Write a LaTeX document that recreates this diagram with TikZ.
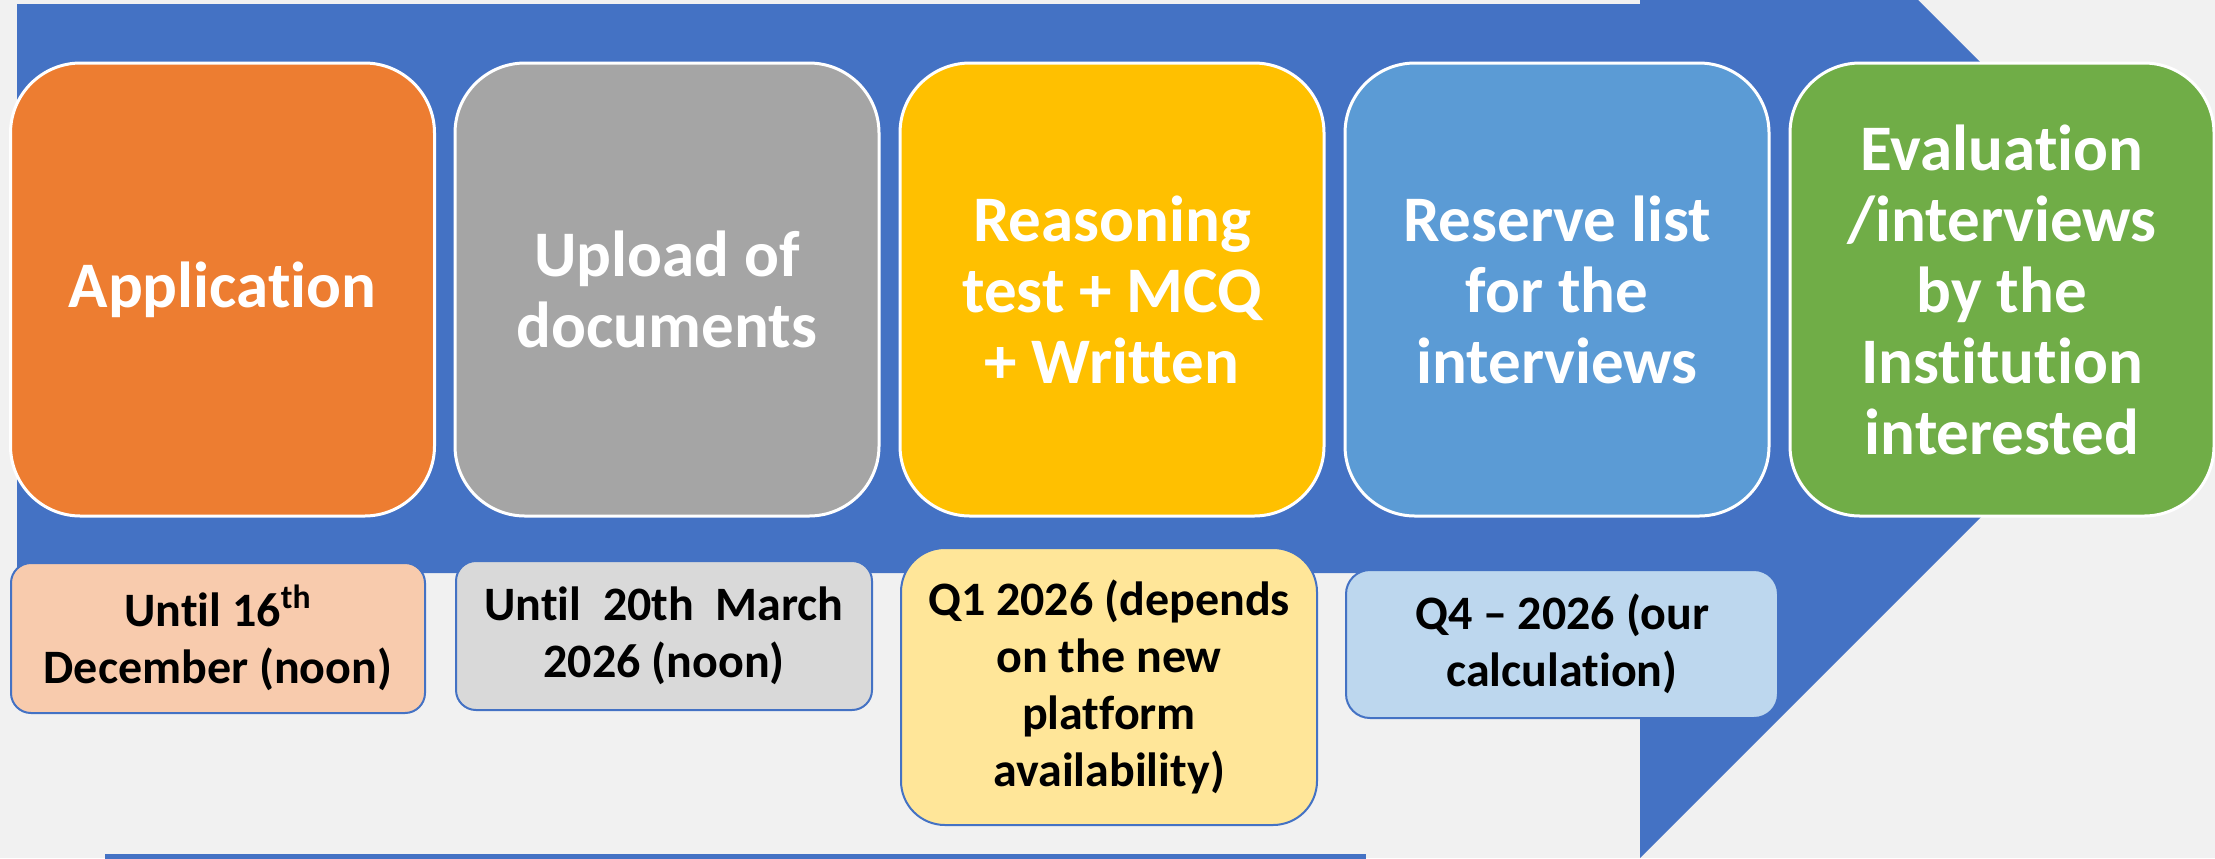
\documentclass[tikz,border=0pt]{standalone}
\usepackage{fontspec}
\setmainfont{Carlito}[Ligatures={TeX,NoCommon}]
\definecolor{bg}{RGB}{241,241,241}
\definecolor{arrowblue}{RGB}{68,114,196}
\definecolor{c1}{RGB}{237,125,49}
\definecolor{c2}{RGB}{165,165,165}
\definecolor{c3}{RGB}{255,192,0}
\definecolor{c4}{RGB}{91,155,213}
\definecolor{c5}{RGB}{112,173,71}
\definecolor{d1}{RGB}{248,203,173}
\definecolor{d2}{RGB}{217,217,217}
\definecolor{d3}{RGB}{255,230,153}
\definecolor{d4}{RGB}{189,215,238}
\begin{document}
\begin{tikzpicture}[x=0.5pt,y=-0.5pt,
  topbox/.style={draw=white, line width=1.5pt, rounded corners=35pt,
    minimum width=212pt, minimum height=226.5pt, inner sep=0pt,
    text width=200pt, align=flush center, text=white,
    font=\fontsize{32.5pt}{35.5pt}\selectfont\bfseries},
  datebox/.style={draw=arrowblue, line width=1pt, inner sep=0pt,
    text width=200pt, align=flush center, text=black,
    font=\fontsize{24pt}{28.5pt}\selectfont\bfseries}]
\useasboundingbox (0,0) rectangle (2215,858);
\clip (0,0) rectangle (2215,858);
\fill[bg] (0,0) rectangle (2215,858);
% big arrow
\fill[arrowblue] (17,4) -- (1640,4) -- (1640,-278) -- (2208,290) -- (1640,858)
  -- (1640,573) -- (17,573) -- cycle;
\fill[arrowblue] (105,854) rectangle (1366,864);
% top boxes
\node[topbox, fill=c1] (s1) at (222.5,289.5) {Application};
\node[topbox, fill=c2] (s2) at (667,289.5) {Upload of\\documents};
\node[topbox, fill=c3] (s3) at (1112,289.5) {Reasoning\\test + MCQ\\+ Written};
\node[topbox, fill=c4] (s4) at (1557,289.5) {Reserve list\\for the\\interviews};
\node[topbox, fill=c5] (s5) at (2002,289.5) {Evaluation\\/interviews\\by the\\Institution\\interested};
% date boxes
\node[datebox, fill=d1, rounded corners=10pt, minimum width=207pt, minimum height=75pt]
  (d1) at (218,638) {Until 16\textsuperscript{th}\\December (noon)};
\node[datebox, fill=d2, rounded corners=10pt, minimum width=208pt, minimum height=74.5pt]
  (d2) at (664,635.5) {Until\ \ 20th\ \ March\\2026 (noon)};
\node[datebox, fill=d3, rounded corners=22pt, minimum width=208pt, minimum height=138.5pt]
  (d3) at (1109,686.5) {Q1 2026 (depends\\on the new\\platform\\availability)};
\node[datebox, fill=d4, rounded corners=12pt, minimum width=216pt, minimum height=74pt]
  (d4) at (1562,644) {Q4 – 2026 (our\\calculation)};
\end{tikzpicture}
\end{document}
